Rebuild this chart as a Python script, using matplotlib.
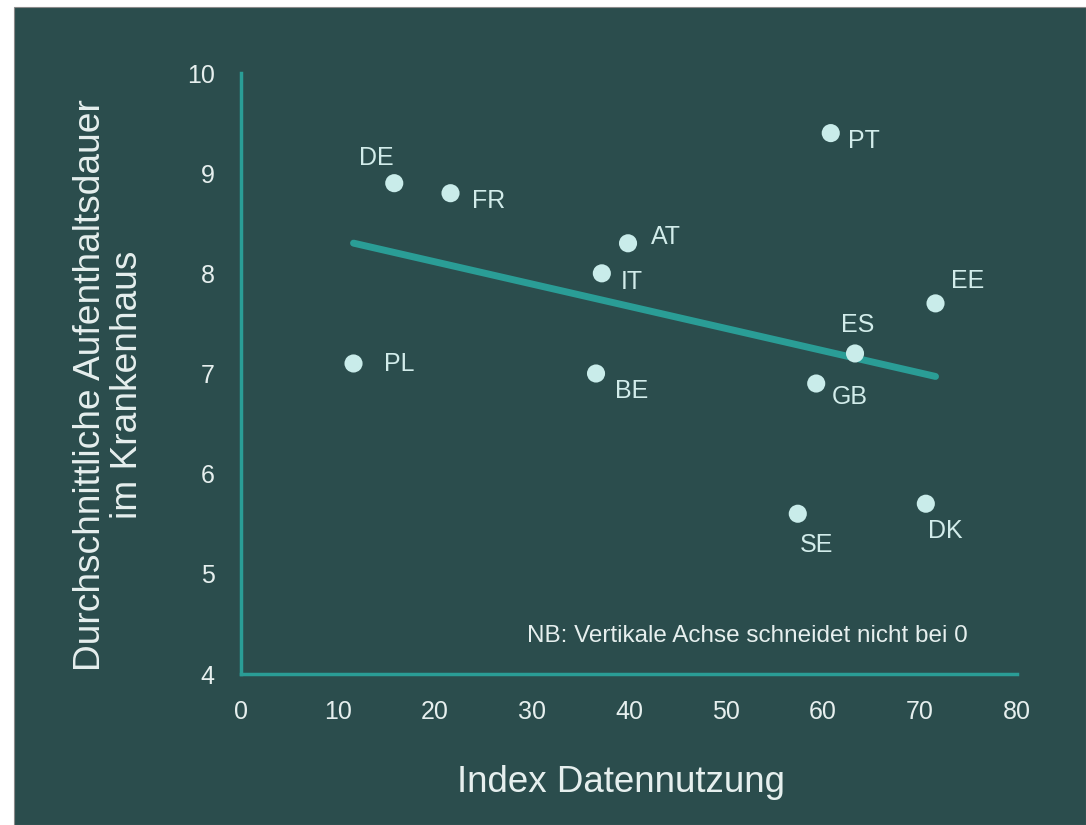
import numpy as np
import matplotlib
matplotlib.use("Agg")
import matplotlib.pyplot as plt
from matplotlib.patches import Rectangle

plt.rcParams['font.family'] = ['Liberation Sans', 'DejaVu Sans']

countries = ["DE", "FR", "AT", "IT", "PL", "BE", "PT", "EE", "ES", "GB", "SE", "DK"]
index_data = [15.8, 21.6, 39.9, 37.2, 11.6, 36.6, 60.8, 71.6, 63.3, 59.3, 57.4, 70.6]
stay_days = [8.9, 8.8, 8.3, 8.0, 7.1, 7.0, 9.4, 7.7, 7.2, 6.9, 5.6, 5.7]
x_ticks = [0, 10, 20, 30, 40, 50, 60, 70, 80]
y_ticks = [4, 5, 6, 7, 8, 9, 10]

label_offsets = {
    "DE": (-18, 25), "FR": (38, -8), "AT": (38, 6), "IT": (30, -9),
    "PL": (46, -1), "BE": (36, -18), "PT": (33, -8), "EE": (32, 22),
    "ES": (3, 28), "GB": (34, -13), "SE": (19, -31), "DK": (19, -27),
}

BG = "#2b4d4d"
TEAL = "#2a9d96"
DOT = "#c9ecea"
TXT = "#e6efee"
LBL = "#d2ecea"

fig = plt.figure(figsize=(10.86, 8.25), dpi=100, facecolor="white")
fig.patches.append(Rectangle((14 / 1086, 0), 1 - 14 / 1086, 1 - 7 / 825,
                             transform=fig.transFigure, facecolor=BG,
                             edgecolor="#8a8a8a", linewidth=0.8, zorder=-10))

ax = fig.add_axes([241 / 1086, 1 - 674 / 825, (1017 - 241) / 1086, (674 - 73) / 825])
ax.set_zorder(5)
ax.set_facecolor("none")
ax.set_xlim(0, 80)
ax.set_ylim(4, 10)
ax.set_xticks(x_ticks)
ax.set_yticks(y_ticks)
ax.tick_params(length=0, colors=TXT, labelsize=18, pad=19)
for lab in ax.get_xticklabels() + ax.get_yticklabels():
    lab.set_color(TXT)
for s in ["top", "right"]:
    ax.spines[s].set_visible(False)
for s in ["left", "bottom"]:
    ax.spines[s].set_color(TEAL)
    ax.spines[s].set_linewidth(2.5)

# trend line (least squares)
xs = np.array(index_data)
ys = np.array(stay_days)
m, b = np.polyfit(xs, ys, 1)
xl = np.array([xs.min(), xs.max()])
ax.plot(xl, m * xl + b, color=TEAL, linewidth=5, solid_capstyle="round", zorder=2)

ax.scatter(xs, ys, s=170, color=DOT, edgecolors="none", zorder=3)
for c, x, y in zip(countries, index_data, stay_days):
    dx, dy = label_offsets[c]
    ax.annotate(c, (x, y), xytext=(dx, dy), textcoords="offset pixels",
                ha="center", va="center", fontsize=18, color=LBL, zorder=4)

fig.text(968 / 1086, 1 - 636 / 825, "NB: Vertikale Achse schneidet nicht bei 0",
         ha="right", va="center", fontsize=17.5, color=TXT)

fig.text(621 / 1086, 1 - 783 / 825, "Index Datennutzung", fontsize=26.5, color=TXT,
         ha="center", va="center")
fig.text(109 / 1086, 1 - 385 / 825, "Durchschnittliche Aufenthaltsdauer\nim Krankenhaus",
         fontsize=26.7, color=TXT, rotation=90, ha="center", va="center",
         multialignment="center", linespacing=1.1)

fig.savefig("out.png", dpi=100, facecolor=fig.get_facecolor())
